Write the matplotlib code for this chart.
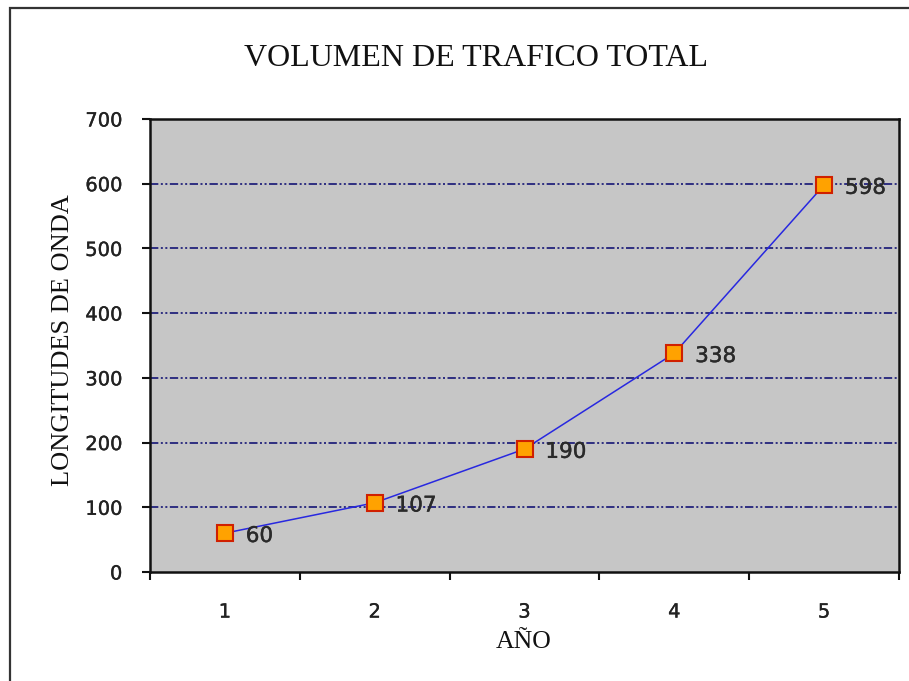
import matplotlib
matplotlib.use("Agg")
import matplotlib.pyplot as plt
from matplotlib.patches import Rectangle
import matplotlib.patheffects as pe

# Traffic volume per year
years = [1, 2, 3, 4, 5]
volumes = [60, 107, 190, 338, 598]
year_labels = ["1", "2", "3", "4", "5"]
y_ticks = [0, 100, 200, 300, 400, 500, 600, 700]

title = "VOLUMEN DE TRAFICO TOTAL"
x_title = "AÑO"
y_title = "LONGITUDES DE ONDA"

fig = plt.figure(figsize=(9.09, 6.81), dpi=100)
fig.patch.set_facecolor("white")

# outer chart frame (runs off the right and bottom edges)
frame = Rectangle((10 / 909, -0.1), 1.2, (681 - 8) / 681 + 0.1,
                  transform=fig.transFigure, fill=False,
                  edgecolor="#333333", linewidth=1.6, zorder=0)
fig.patches.append(frame)

ax = fig.add_axes([150 / 909, (681 - 572) / 681,
                   (899 - 150) / 909, (572 - 119) / 681])
ax.set_facecolor("#c6c6c6")

ax.set_xlim(0.5, 5.5)
ax.set_ylim(0, 700)

# horizontal gridlines with dash-dot-dot pattern
for v in y_ticks[1:-1]:
    ax.axhline(v, color="#151575", linewidth=1.2,
               dashes=(5, 1.5, 1.2, 1.5, 1.2, 1.5), zorder=1)

ax.plot(years, volumes, color="#2828e0", linewidth=1.1, zorder=2)
ax.plot(years, volumes, linestyle="none", marker="s", markersize=11.5,
        markerfacecolor="#ffa200", markeredgecolor="#d02000",
        markeredgewidth=1.5, zorder=3)

thick = [pe.withStroke(linewidth=0.3, foreground="#2a2a2a")]
for x, v in zip(years, volumes):
    ax.annotate(str(v), (x, v), xytext=(15, -2), textcoords="offset points",
                ha="left", va="center", fontsize=15.5, color="#2a2a2a",
                family="DejaVu Sans", zorder=4, path_effects=thick)

ax.set_yticks(y_ticks)
ax.set_yticklabels([str(t) for t in y_ticks])
ax.set_xticks(years)
ax.set_xticklabels(year_labels)
ax.set_xticks([0.5, 1.5, 2.5, 3.5, 4.5, 5.5], minor=True)
ax.tick_params(axis="x", which="major", length=0, pad=22, labelsize=14,
               labelcolor="#222222")
ax.tick_params(axis="x", which="minor", length=6, width=1.5, direction="out",
               color="#111111")
ax.tick_params(axis="y", which="major", length=6, width=1.5, direction="out",
               pad=14, labelsize=14, labelcolor="#222222", color="#111111")
thin = [pe.withStroke(linewidth=0.25, foreground="#222222")]
for lbl in ax.get_xticklabels() + ax.get_yticklabels():
    lbl.set_family("DejaVu Sans")
    lbl.set_path_effects(thin)

for s in ax.spines.values():
    s.set_color("#111111")
    s.set_linewidth(1.8)

fig.text(476 / 909, 1 - 58 / 681, title, ha="center", va="center",
         fontsize=23, family="Liberation Serif", color="#111111")
fig.text(524 / 909, 1 - 642 / 681, x_title, ha="center", va="center",
         fontsize=18.5, family="Liberation Serif", color="#111111")
fig.text(63 / 909, 1 - 340 / 681, y_title, ha="center", va="center",
         rotation=90, fontsize=19, family="Liberation Serif", color="#111111")

fig.savefig("out.png", dpi=100)
